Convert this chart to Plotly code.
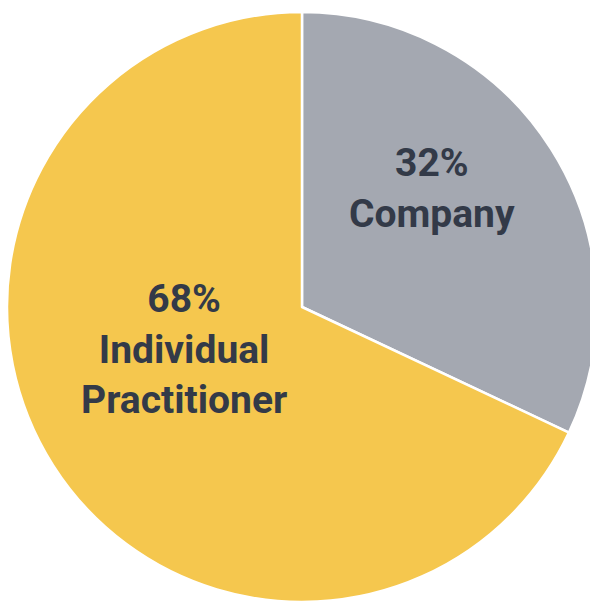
import plotly.graph_objects as go

labels = ["Company", "Individual<br>Practitioner"]
values = [32, 68]
colors = ["#A4A8B1", "#F5C74E"]
# label anchor points (paper coords) for each slice
label_x = [0.715, 0.305]
label_y = [0.690, 0.424]

fig = go.Figure()
fig.add_trace(go.Pie(
    labels=labels,
    values=values,
    sort=False,
    direction="clockwise",
    rotation=0,
    marker=dict(colors=colors, line=dict(color="white", width=2.5)),
    textinfo="none",
    showlegend=False,
    hoverinfo="label+percent",
    # pie runs slightly past the right edge of the frame, as in the source
    domain=dict(x=[7 / 604, 597 / 604], y=[3 / 607, 1 - 10 / 607]),
))

total = sum(values)
for lab, val, lx, ly in zip(labels, values, label_x, label_y):
    fig.add_annotation(
        x=lx, y=ly, xref="paper", yref="paper",
        text=f"{round(100 * val / total)}%<br>{lab}",
        showarrow=False,
        xanchor="center", yanchor="middle",
        font=dict(family="Roboto", size=39, color="#333A48", weight="bold"),
    )

fig.update_layout(
    width=604,
    height=607,
    margin=dict(t=0, b=0, l=0, r=0),
    paper_bgcolor="white",
    plot_bgcolor="white",
)

fig.write_html(
    "out.html",
    config={"displayModeBar": False},
    post_script="document.body.style.margin='0';document.body.style.overflow='hidden';",
)
